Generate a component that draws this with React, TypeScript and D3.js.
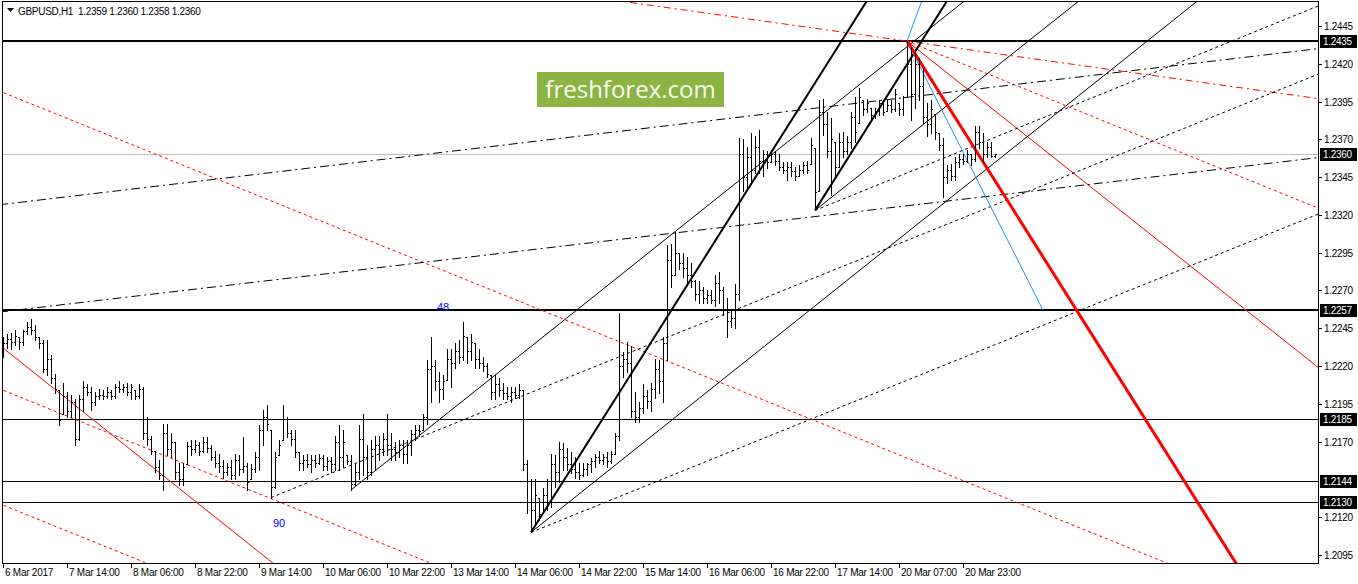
import React from 'react';
import * as d3 from 'd3';

const W = 1358;
const H = 584;
const PLOT = { left: 2, right: 1318, top: 1, bottom: 563 };

// GBPUSD H1 bars, oldest first
const opens = [
1.2230,1.2235,1.2238,1.2236,1.2239,1.2236,1.2243,1.2246,1.2244,1.2239,1.2235,1.2218,1.2225,1.2212,1.2204,1.2188,1.2200,1.2190,1.2196,1.2172,
1.2198,1.2206,1.2203,1.2196,1.2200,1.2201,1.2200,1.2203,1.2200,1.2206,1.2205,1.2206,1.2203,1.2204,1.2200,1.2205,1.2176,1.2172,1.2164,1.2153,
1.2148,1.2176,1.2165,1.2170,1.2150,1.2145,1.2155,1.2167,1.2165,1.2168,1.2164,1.2170,1.2166,1.2160,1.2156,1.2154,1.2150,1.2153,1.2148,1.2158,
1.2152,1.2154,1.2145,1.2152,1.2160,1.2178,1.2186,1.2178,1.2140,1.2161,1.2171,1.2185,1.2176,1.2172,1.2163,1.2156,1.2158,1.2155,1.2158,1.2156,
1.2159,1.2154,1.2157,1.2155,1.2170,1.2160,1.2161,1.2157,1.2142,1.2150,1.2172,1.2160,1.2150,1.2165,1.2168,1.2165,1.2172,1.2168,1.2165,1.2163,
1.2168,1.2162,1.2168,1.2175,1.2178,1.2178,1.2186,1.2218,1.2220,1.2210,1.2205,1.2211,1.2225,1.2222,1.2230,1.2226,1.2239,1.2230,1.2235,1.2225,
1.2222,1.2220,1.2214,1.2203,1.2208,1.2204,1.2202,1.2200,1.2203,1.2201,1.2204,1.2155,1.2130,1.2125,1.2133,1.2123,1.2135,1.2130,1.2155,1.2150,
1.2165,1.2160,1.2155,1.2152,1.2150,1.2148,1.2152,1.2155,1.2157,1.2160,1.2158,1.2160,1.2157,1.2162,1.2174,1.2220,1.2225,1.2222,1.2190,1.2186,
1.2192,1.2200,1.2197,1.2205,1.2218,1.2210,1.2235,1.2290,1.2280,1.2295,1.2288,1.2285,1.2280,1.2276,1.2268,1.2270,1.2265,1.2267,1.2264,1.2275,
1.2270,1.2258,1.2250,1.2252,1.2268,1.2360,1.2345,1.2358,1.2350,1.2365,1.2356,1.2360,1.2355,1.2360,1.2356,1.2352,1.2350,1.2352,1.2349,1.2346,
1.2350,1.2353,1.2354,1.2364,1.2336,1.2388,1.2380,1.2362,1.2368,1.2352,1.2368,1.2362,1.2368,1.2385,1.2381,1.2396,1.2390,1.2391,1.2386,1.2389,
1.2394,1.2389,1.2393,1.2390,1.2394,1.2390,1.2398,1.2420,1.2400,1.2420,1.2405,1.2385,1.2380,1.2387,1.2374,1.2366,1.2345,1.2350,1.2346,1.2355,
1.2357,1.2356,1.2360,1.2357,1.2375,1.2368,1.2360,1.2365,1.2359,
];
const highs = [
1.2239,1.2241,1.2242,1.2244,1.2239,1.2244,1.2249,1.2251,1.2247,1.2239,1.2237,1.2237,1.2227,1.2215,1.2204,1.2209,1.2203,1.2201,1.2198,1.2201,
1.2210,1.2208,1.2206,1.2203,1.2205,1.2204,1.2206,1.2204,1.2208,1.2210,1.2208,1.2209,1.2208,1.2204,1.2208,1.2206,1.2186,1.2174,1.2164,1.2158,
1.2182,1.2182,1.2176,1.2170,1.2156,1.2156,1.2170,1.2171,1.2171,1.2170,1.2173,1.2173,1.2168,1.2164,1.2162,1.2158,1.2156,1.2158,1.2162,1.2161,
1.2173,1.2156,1.2155,1.2163,1.2181,1.2191,1.2194,1.2178,1.2163,1.2171,1.2194,1.2186,1.2178,1.2178,1.2163,1.2161,1.2162,1.2161,1.2161,1.2162,
1.2161,1.2160,1.2160,1.2174,1.2181,1.2178,1.2161,1.2161,1.2155,1.2181,1.2188,1.2168,1.2171,1.2174,1.2174,1.2176,1.2188,1.2176,1.2170,1.2171,
1.2171,1.2171,1.2178,1.2181,1.2181,1.2188,1.2224,1.2239,1.2224,1.2216,1.2214,1.2231,1.2231,1.2235,1.2237,1.2249,1.2239,1.2241,1.2235,1.2231,
1.2226,1.2222,1.2214,1.2214,1.2212,1.2209,1.2206,1.2206,1.2206,1.2208,1.2204,1.2158,1.2145,1.2145,1.2133,1.2139,1.2145,1.2162,1.2161,1.2170,
1.2169,1.2166,1.2163,1.2160,1.2156,1.2156,1.2156,1.2159,1.2162,1.2164,1.2162,1.2163,1.2164,1.2176,1.2255,1.2229,1.2236,1.2233,1.2203,1.2196,
1.2208,1.2204,1.2209,1.2225,1.2224,1.2239,1.2300,1.2301,1.2309,1.2295,1.2295,1.2292,1.2288,1.2277,1.2276,1.2272,1.2270,1.2270,1.2280,1.2282,
1.2272,1.2265,1.2257,1.2274,1.2371,1.2370,1.2365,1.2374,1.2372,1.2376,1.2363,1.2362,1.2363,1.2362,1.2360,1.2355,1.2355,1.2355,1.2352,1.2353,
1.2355,1.2356,1.2371,1.2364,1.2396,1.2397,1.2388,1.2384,1.2368,1.2374,1.2375,1.2372,1.2388,1.2398,1.2404,1.2396,1.2397,1.2391,1.2391,1.2396,
1.2396,1.2396,1.2396,1.2403,1.2394,1.2399,1.2435,1.2431,1.2427,1.2424,1.2417,1.2394,1.2396,1.2387,1.2374,1.2371,1.2353,1.2354,1.2358,1.2360,
1.2360,1.2363,1.2360,1.2379,1.2379,1.2374,1.2368,1.2368,1.2360,
];
const lows = [
1.2226,1.2232,1.2231,1.2234,1.2231,1.2234,1.2241,1.2241,1.2237,1.2232,1.2216,1.2214,1.2209,1.2202,1.2181,1.2188,1.2186,1.2186,1.2168,1.2171,
1.2190,1.2201,1.2191,1.2194,1.2198,1.2198,1.2199,1.2198,1.2199,1.2203,1.2203,1.2201,1.2198,1.2198,1.2199,1.2172,1.2168,1.2162,1.2150,1.2145,
1.2138,1.2161,1.2160,1.2145,1.2141,1.2141,1.2155,1.2161,1.2163,1.2161,1.2163,1.2163,1.2158,1.2153,1.2150,1.2146,1.2148,1.2145,1.2145,1.2148,
1.2150,1.2138,1.2145,1.2150,1.2151,1.2168,1.2178,1.2133,1.2139,1.2161,1.2171,1.2173,1.2168,1.2160,1.2151,1.2151,1.2153,1.2150,1.2153,1.2155,
1.2151,1.2151,1.2150,1.2151,1.2151,1.2153,1.2155,1.2138,1.2141,1.2145,1.2148,1.2145,1.2148,1.2151,1.2158,1.2161,1.2161,1.2158,1.2158,1.2160,
1.2156,1.2156,1.2161,1.2171,1.2174,1.2178,1.2182,1.2196,1.2204,1.2196,1.2198,1.2211,1.2206,1.2219,1.2222,1.2224,1.2222,1.2224,1.2219,1.2219,
1.2217,1.2213,1.2198,1.2198,1.2200,1.2198,1.2198,1.2196,1.2199,1.2199,1.2151,1.2123,1.2110,1.2116,1.2118,1.2123,1.2125,1.2127,1.2140,1.2143,
1.2151,1.2151,1.2149,1.2146,1.2145,1.2147,1.2148,1.2150,1.2153,1.2156,1.2155,1.2153,1.2156,1.2162,1.2171,1.2213,1.2216,1.2186,1.2183,1.2183,
1.2189,1.2192,1.2190,1.2199,1.2202,1.2196,1.2224,1.2272,1.2280,1.2284,1.2279,1.2275,1.2272,1.2264,1.2262,1.2262,1.2262,1.2262,1.2260,1.2262,
1.2254,1.2239,1.2246,1.2245,1.2264,1.2336,1.2338,1.2342,1.2348,1.2348,1.2346,1.2351,1.2355,1.2353,1.2350,1.2348,1.2343,1.2346,1.2343,1.2346,
1.2348,1.2348,1.2354,1.2323,1.2336,1.2373,1.2358,1.2333,1.2345,1.2352,1.2358,1.2360,1.2364,1.2368,1.2381,1.2386,1.2388,1.2383,1.2384,1.2386,
1.2386,1.2389,1.2388,1.2389,1.2386,1.2386,1.2398,1.2383,1.2391,1.2396,1.2381,1.2372,1.2374,1.2370,1.2363,1.2332,1.2341,1.2343,1.2343,1.2352,
1.2354,1.2355,1.2353,1.2356,1.2364,1.2355,1.2358,1.2358,1.2358,
];
const closes = [
1.2235,1.2238,1.2236,1.2240,1.2236,1.2243,1.2246,1.2244,1.2239,1.2235,1.2218,1.2225,1.2212,1.2205,1.2184,1.2200,1.2190,1.2196,1.2172,1.2198,
1.2206,1.2203,1.2196,1.2200,1.2201,1.2200,1.2203,1.2200,1.2206,1.2205,1.2206,1.2203,1.2206,1.2200,1.2205,1.2176,1.2172,1.2164,1.2153,1.2148,
1.2176,1.2165,1.2170,1.2150,1.2145,1.2153,1.2167,1.2165,1.2168,1.2164,1.2170,1.2166,1.2160,1.2156,1.2154,1.2150,1.2153,1.2148,1.2158,1.2152,
1.2154,1.2143,1.2152,1.2160,1.2178,1.2186,1.2182,1.2140,1.2160,1.2168,1.2185,1.2176,1.2172,1.2163,1.2156,1.2158,1.2155,1.2158,1.2156,1.2159,
1.2154,1.2157,1.2155,1.2170,1.2160,1.2170,1.2157,1.2142,1.2150,1.2172,1.2160,1.2150,1.2165,1.2168,1.2165,1.2172,1.2168,1.2165,1.2163,1.2168,
1.2162,1.2168,1.2175,1.2178,1.2177,1.2186,1.2218,1.2220,1.2210,1.2205,1.2210,1.2225,1.2222,1.2230,1.2226,1.2240,1.2230,1.2236,1.2225,1.2222,
1.2220,1.2215,1.2203,1.2208,1.2204,1.2202,1.2200,1.2203,1.2201,1.2204,1.2155,1.2130,1.2125,1.2135,1.2122,1.2135,1.2130,1.2155,1.2150,1.2165,
1.2160,1.2155,1.2152,1.2150,1.2148,1.2152,1.2155,1.2157,1.2160,1.2158,1.2160,1.2157,1.2162,1.2174,1.2220,1.2225,1.2222,1.2190,1.2186,1.2192,
1.2200,1.2197,1.2205,1.2218,1.2210,1.2235,1.2290,1.2280,1.2295,1.2288,1.2285,1.2280,1.2276,1.2268,1.2270,1.2265,1.2267,1.2264,1.2275,1.2270,
1.2258,1.2250,1.2252,1.2268,1.2360,1.2345,1.2358,1.2350,1.2365,1.2356,1.2360,1.2355,1.2360,1.2356,1.2352,1.2350,1.2352,1.2349,1.2346,1.2350,
1.2353,1.2350,1.2366,1.2335,1.2388,1.2380,1.2362,1.2370,1.2352,1.2368,1.2362,1.2368,1.2385,1.2375,1.2398,1.2390,1.2394,1.2386,1.2389,1.2394,
1.2388,1.2393,1.2390,1.2400,1.2390,1.2398,1.2420,1.2400,1.2420,1.2405,1.2385,1.2380,1.2390,1.2375,1.2366,1.2345,1.2350,1.2346,1.2355,1.2357,
1.2356,1.2360,1.2357,1.2375,1.2368,1.2360,1.2365,1.2359,1.2360,
];

const header = 'GBPUSD,H1  1.2359 1.2360 1.2358 1.2360';

// time axis: one label every 16 bars
const timeLabels = [
  '6 Mar 2017', '7 Mar 14:00', '8 Mar 06:00', '8 Mar 22:00', '9 Mar 14:00', '10 Mar 06:00',
  '10 Mar 22:00', '13 Mar 14:00', '14 Mar 06:00', '14 Mar 22:00', '15 Mar 14:00', '16 Mar 06:00',
  '16 Mar 22:00', '17 Mar 14:00', '20 Mar 07:00', '20 Mar 23:00',
];
const timeLabelStep = 16;

const priceTicks = [1.2445, 1.2420, 1.2395, 1.2370, 1.2345, 1.2320, 1.2295, 1.2270, 1.2245, 1.2220, 1.2195, 1.2170, 1.2120, 1.2095];

// horizontal levels
const thickLevels = [1.2435, 1.2257];
const thinLevels = [1.2185, 1.2144, 1.2130];
const bidPrice = 1.2360;
const markedPrices = [1.2435, 1.2360, 1.2257, 1.2185, 1.2144, 1.2130];

// trend lines as [bar, price] pairs; rays start at the first point
type Pt = [number, number];
const blackThickRays: Pt[][] = [[[132, 1.2110], [212, 1.2445]], [[203, 1.2323], [223, 1.2407]]];
const blackThinRays: Pt[][] = [[[132, 1.2110], [232, 1.2321]], [[203, 1.2323], [243, 1.2407]], [[87, 1.2138], [187, 1.2349]]];
const blackDotRays: Pt[][] = [[[132, 1.2110], [232, 1.2217]], [[203, 1.2323], [283, 1.2409]], [[67, 1.2133], [167, 1.2240]]];
const blackDashDotLines: Pt[][] = [[[0, 1.2256], [300, 1.2349]], [[0, 1.2327], [300, 1.2421]]];
const redThickRays: Pt[][] = [[[226, 1.2435], [246, 1.2351]]];
const redThinRays: Pt[][] = [[[226, 1.2435], [266, 1.2351]]];
const redThinLines: Pt[][] = [[[0, 1.2232], [100, 1.2021]]];
const redDotRays: Pt[][] = [[[226, 1.2435], [306, 1.2349]]];
const redDotLines: Pt[][] = [[[0, 1.2401], [100, 1.2294]], [[0, 1.2204], [100, 1.2097]], [[0, 1.2128], [100, 1.2021]]];
const redDashLines: Pt[][] = [[[226, 1.2435], [326, 1.2398]]];
const bluePath: Pt[] = [[229.75, 1.2462], [226, 1.2435], [260, 1.2257]];

// wave counts
const notes: { bar: number; price: number; text: string }[] = [
  { bar: 110, price: 1.2259, text: '48' },
  { bar: 69, price: 1.2116, text: '90' },
];

const FONT = '"Liberation Sans", Arial, sans-serif';

export default function App() {
  const n = closes.length;
  const x = d3.scaleLinear().domain([0, n - 1]).range([3, 3 + 4 * (n - 1)]);
  const y = d3.scaleLinear().domain([1.2095, 1.2445]).range([555, 26]);

  const seg = (pts: Pt[], both: boolean) => {
    const [[i1, p1], [i2, p2]] = pts;
    const k = (p2 - p1) / (i2 - i1);
    const a = both ? -100 : i1;
    const b = 500;
    return { x1: x(a), y1: y(p1 + k * (a - i1)), x2: x(b), y2: y(p1 + k * (b - i1)) };
  };

  const drawLines = (list: Pt[][], both: boolean, props: any, key: string) =>
    list.map((pts, j) => <line key={key + j} {...seg(pts, both)} {...props} />);

  const blueLine = d3.line<Pt>().x((d) => x(d[0])).y((d) => y(d[1]))(bluePath) || '';

  const ry = (p: number) => Math.round(y(p));

  return (
    <div style={{ position: 'fixed', left: 0, top: 0, width: W, height: H, background: '#fff' }}>
      <svg width={W} height={H} style={{ display: 'block' }} fontFamily={FONT}>
        <defs>
          <clipPath id="plotClip">
            <rect x={PLOT.left} y={PLOT.top} width={PLOT.right - PLOT.left} height={PLOT.bottom - PLOT.top} />
          </clipPath>
        </defs>
        <rect x={0} y={0} width={W} height={H} fill="#fff" />

        <g clipPath="url(#plotClip)">
          {/* logo */}
          <rect x={537} y={72} width={187} height={35} fill="#8cb443" />
          <text x={630.5} y={98} textAnchor="middle" fontFamily='"Open Sans", sans-serif' fontSize={24} fill="#f7faef">
            freshforex.com
          </text>

          {/* horizontal levels */}
          <line x1={PLOT.left} x2={PLOT.right} y1={ry(bidPrice) + 0.5} y2={ry(bidPrice) + 0.5} stroke="#c0c0c0" strokeWidth={1} shapeRendering="crispEdges" />
          {thinLevels.map((p) => (
            <line key={'tl' + p} x1={PLOT.left} x2={PLOT.right} y1={ry(p) + 0.5} y2={ry(p) + 0.5} stroke="#000" strokeWidth={1} shapeRendering="crispEdges" />
          ))}
          {thickLevels.map((p) => (
            <line key={'th' + p} x1={PLOT.left} x2={PLOT.right} y1={ry(p)} y2={ry(p)} stroke="#000" strokeWidth={2} shapeRendering="crispEdges" />
          ))}

          {/* red study lines */}
          {drawLines(redDotLines, true, { stroke: '#ff0000', strokeWidth: 1, strokeDasharray: '3,3' }, 'rdl')}
          {drawLines(redDotRays, false, { stroke: '#ff0000', strokeWidth: 1, strokeDasharray: '3,3' }, 'rdr')}
          {drawLines(redDashLines, true, { stroke: '#ff0000', strokeWidth: 1, strokeDasharray: '7,4,2,4' }, 'rdd')}
          {drawLines(redThinLines, true, { stroke: '#ff0000', strokeWidth: 1 }, 'rtl')}
          {drawLines(redThinRays, false, { stroke: '#ff0000', strokeWidth: 1 }, 'rtr')}

          {/* black study lines */}
          {drawLines(blackDashDotLines, true, { stroke: '#000', strokeWidth: 1, strokeDasharray: '9,4,2,4' }, 'bdd')}
          {drawLines(blackDotRays, false, { stroke: '#000', strokeWidth: 1, strokeDasharray: '3,3' }, 'bdr')}
          {drawLines(blackThinRays, false, { stroke: '#000', strokeWidth: 1 }, 'btr')}
          {drawLines(blackThickRays, false, { stroke: '#000', strokeWidth: 2 }, 'bkr')}

          <path d={blueLine} fill="none" stroke="#1e90ff" strokeWidth={1} />
          {drawLines(redThickRays, false, { stroke: '#ff0000', strokeWidth: 3 }, 'rkr')}

          {/* price bars */}
          <g fill="#000" shapeRendering="crispEdges">
            {closes.map((c, i) => {
              const xi = Math.round(x(i));
              const yh = ry(highs[i]);
              const yl = ry(lows[i]);
              return (
                <g key={'b' + i}>
                  <rect x={xi} y={yh} width={1} height={Math.max(1, yl - yh + 1)} />
                  <rect x={xi - 1} y={ry(opens[i])} width={1} height={1} />
                  <rect x={xi + 1} y={ry(c)} width={1} height={1} />
                </g>
              );
            })}
          </g>

          {notes.map((d) => (
            <text key={'n' + d.text} x={x(d.bar)} y={y(d.price) + 4} textAnchor="middle" fontSize={11} fill="#0000ff">
              {d.text}
            </text>
          ))}

          {/* header */}
          <path d="M7,8 L14,8 L10.5,12 Z" fill="#000" />
          <text x={18} y={15} fontSize={10} letterSpacing={-0.3} fill="#000" style={{ whiteSpace: 'pre' }}>
            {header}
          </text>
        </g>

        {/* frame */}
        <rect x={PLOT.left + 0.5} y={PLOT.top + 0.5} width={PLOT.right - PLOT.left} height={PLOT.bottom - PLOT.top} fill="none" stroke="#000" strokeWidth={1} shapeRendering="crispEdges" />

        {/* price axis */}
        <g fontSize={10} letterSpacing={-0.3} fill="#000">
          {priceTicks.map((p) => (
            <g key={'pt' + p}>
              <line x1={PLOT.right} x2={PLOT.right + 4} y1={ry(p) + 0.5} y2={ry(p) + 0.5} stroke="#000" shapeRendering="crispEdges" />
              <text x={PLOT.right + 6} y={ry(p) + 4}>{p.toFixed(4)}</text>
            </g>
          ))}
          {markedPrices.map((p) => (
            <g key={'mp' + p}>
              <rect x={PLOT.right + 2} y={ry(p) - 6} width={37} height={13} fill="#000" />
              <text x={PLOT.right + 5} y={ry(p) + 4} fill="#fff">{p.toFixed(4)}</text>
            </g>
          ))}
        </g>

        {/* time axis */}
        <g fontSize={10} letterSpacing={-0.25} fill="#000">
          {timeLabels.map((t, j) => {
            const xi = Math.round(x(j * timeLabelStep));
            return (
              <g key={'tl' + j}>
                <line x1={xi + 0.5} x2={xi + 0.5} y1={PLOT.bottom} y2={PLOT.bottom + 5} stroke="#000" shapeRendering="crispEdges" />
                <text x={xi + 2} y={PLOT.bottom + 13}>{t}</text>
              </g>
            );
          })}
        </g>
      </svg>
    </div>
  );
}
